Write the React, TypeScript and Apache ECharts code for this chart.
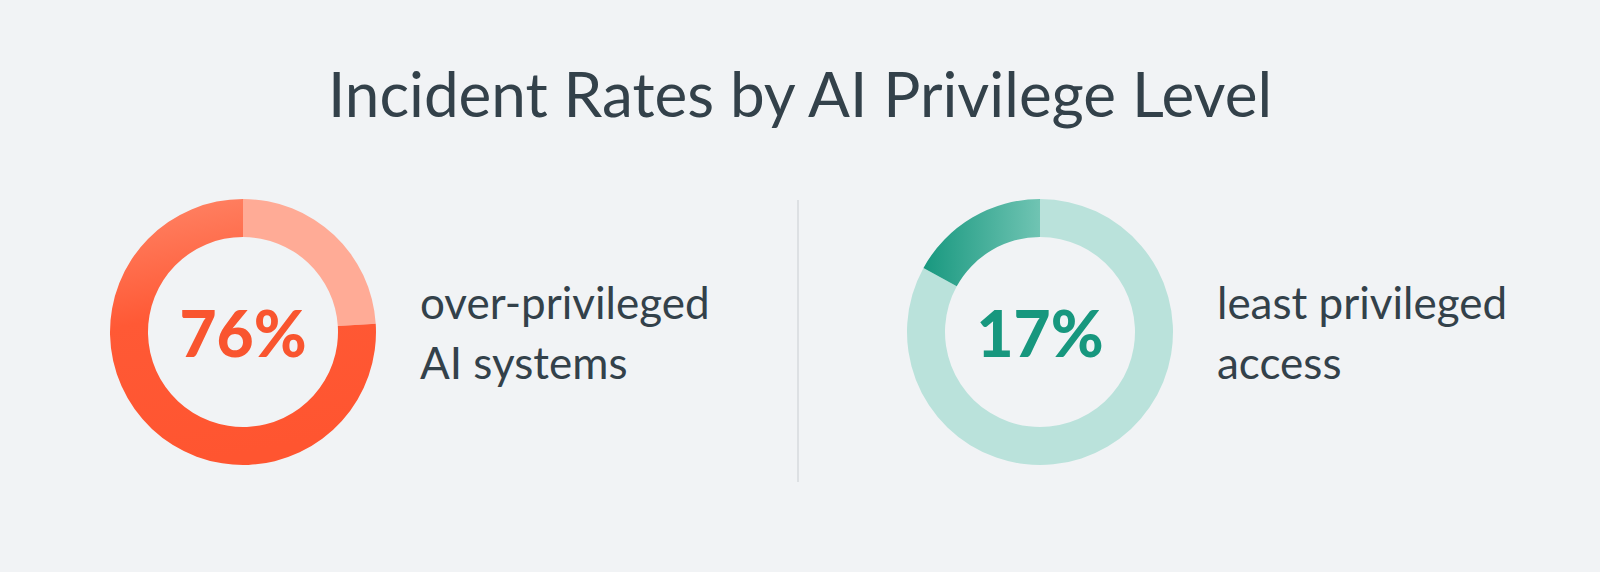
import React, { useEffect, useRef } from 'react';
import * as echarts from 'echarts';

// values
const groupNames = ['over-privileged AI systems', 'least privileged access'];
const incidentRates = [76, 17];
const labelLines = [
  ['over-privileged', 'AI systems'],
  ['least privileged', 'access']
];
const chartTitle = 'Incident Rates by AI Privilege Level';

const WIDTH = 1600;
const HEIGHT = 572;
const TEXT = '#33414a';
const BG = '#f1f3f5';

const palettes = [
  {
    light: '#ffab96',
    text: '#f9552f',
    dark: new echarts.graphic.LinearGradient(0.1, 0, 0.3, 1, [
      { offset: 0, color: '#ff8466' },
      { offset: 0.45, color: '#ff5935' },
      { offset: 1, color: '#ff5530' }
    ])
  },
  {
    light: '#bae2db',
    text: '#17977e',
    dark: new echarts.graphic.LinearGradient(0, 0, 1, 0, [
      { offset: 0, color: '#18987f' },
      { offset: 1, color: '#70c4b3' }
    ])
  }
];

const centers: Array<[number, number]> = [[243, 332], [1040, 332]];

export const App: React.FC = () => {
  const chartRef = useRef<HTMLDivElement>(null);

  useEffect(() => {
    document.body.style.margin = '0';
    document.body.style.background = BG;
    if (!chartRef.current) return;

    const chart = echarts.init(chartRef.current, undefined, { renderer: 'svg' });

    const series: echarts.PieSeriesOption[] = incidentRates.map((rate, i) => ({
      type: 'pie',
      name: groupNames[i],
      center: centers[i],
      radius: [95, 133],
      startAngle: 90,
      clockwise: true,
      silent: true,
      emphasis: { disabled: true },
      labelLine: { show: false },
      data: [
        {
          value: 100 - rate,
          name: 'other',
          itemStyle: { color: palettes[i].light },
          label: { show: false }
        },
        {
          value: rate,
          name: groupNames[i],
          itemStyle: { color: palettes[i].dark },
          label: {
            show: true,
            position: 'center',
            formatter: '{d}%',
            fontFamily: 'Lato',
            fontWeight: 900,
            fontSize: 64,
            color: palettes[i].text
          }
        }
      ]
    }));

    const labels = labelLines.map((lines, i) => ({
      type: 'text' as const,
      x: centers[i][0] + 177,
      y: 272,
      style: {
        text: lines.join('\n'),
        fontFamily: 'Lato',
        fontSize: 44,
        lineHeight: 60,
        fill: TEXT,
        verticalAlign: 'top' as const
      }
    }));

    const option: echarts.EChartsOption = {
      animation: false,
      backgroundColor: BG,
      title: {
        text: chartTitle,
        left: 'center',
        top: 57,
        textStyle: {
          fontFamily: 'Lato',
          fontWeight: 400,
          fontSize: 62,
          color: TEXT
        }
      },
      graphic: [
        {
          type: 'line',
          shape: { x1: 798, y1: 200, x2: 798, y2: 482 },
          style: { stroke: '#d6dadd', lineWidth: 1.5 }
        },
        ...labels
      ],
      series
    };

    chart.setOption(option);
    return () => chart.dispose();
  }, []);

  return <div ref={chartRef} style={{ width: WIDTH, height: HEIGHT }} />;
};

export default App;
